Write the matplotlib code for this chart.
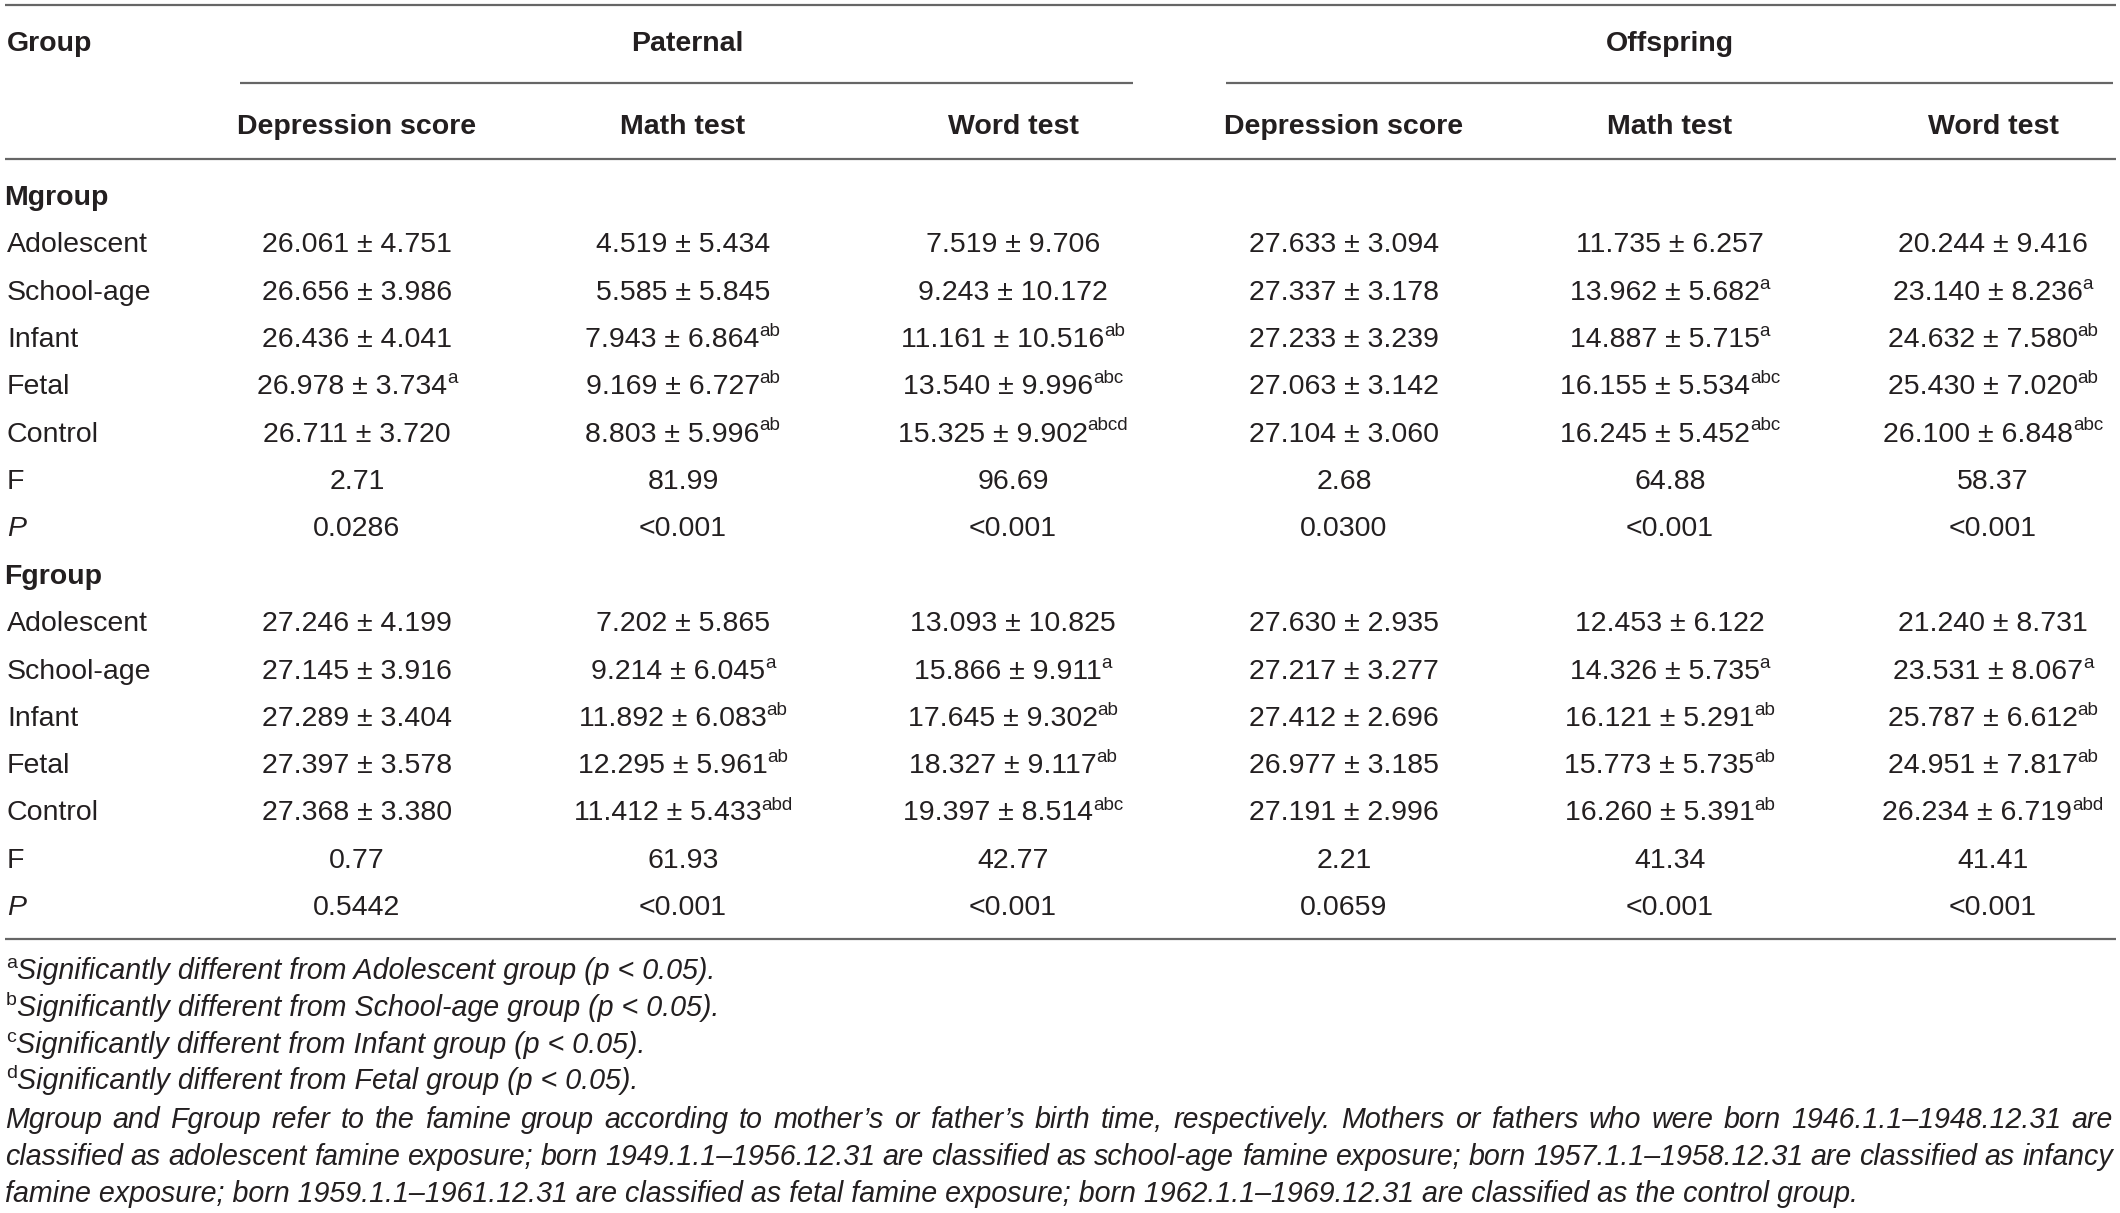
import matplotlib
matplotlib.use("Agg")
import matplotlib.pyplot as plt

# ---------------- data ----------------
row_labels = ["Adolescent", "School-age", "Infant", "Fetal", "Control"]
col_headers = ["Depression score", "Math test", "Word test",
               "Depression score", "Math test", "Word test"]
group_headers = ["Paternal", "Offspring"]

# Mgroup
m_pat_dep_mean = [26.061, 26.656, 26.436, 26.978, 26.711]
m_pat_dep_sd = [4.751, 3.986, 4.041, 3.734, 3.720]
m_pat_dep_sup = ["", "", "", "a", ""]
m_pat_math_mean = [4.519, 5.585, 7.943, 9.169, 8.803]
m_pat_math_sd = [5.434, 5.845, 6.864, 6.727, 5.996]
m_pat_math_sup = ["", "", "ab", "ab", "ab"]
m_pat_word_mean = [7.519, 9.243, 11.161, 13.540, 15.325]
m_pat_word_sd = [9.706, 10.172, 10.516, 9.996, 9.902]
m_pat_word_sup = ["", "", "ab", "abc", "abcd"]
m_off_dep_mean = [27.633, 27.337, 27.233, 27.063, 27.104]
m_off_dep_sd = [3.094, 3.178, 3.239, 3.142, 3.060]
m_off_dep_sup = ["", "", "", "", ""]
m_off_math_mean = [11.735, 13.962, 14.887, 16.155, 16.245]
m_off_math_sd = [6.257, 5.682, 5.715, 5.534, 5.452]
m_off_math_sup = ["", "a", "a", "abc", "abc"]
m_off_word_mean = [20.244, 23.140, 24.632, 25.430, 26.100]
m_off_word_sd = [9.416, 8.236, 7.580, 7.020, 6.848]
m_off_word_sup = ["", "a", "ab", "ab", "abc"]
m_F = ["2.71", "81.99", "96.69", "2.68", "64.88", "58.37"]
m_P = ["0.0286", "<0.001", "<0.001", "0.0300", "<0.001", "<0.001"]

# Fgroup
f_pat_dep_mean = [27.246, 27.145, 27.289, 27.397, 27.368]
f_pat_dep_sd = [4.199, 3.916, 3.404, 3.578, 3.380]
f_pat_dep_sup = ["", "", "", "", ""]
f_pat_math_mean = [7.202, 9.214, 11.892, 12.295, 11.412]
f_pat_math_sd = [5.865, 6.045, 6.083, 5.961, 5.433]
f_pat_math_sup = ["", "a", "ab", "ab", "abd"]
f_pat_word_mean = [13.093, 15.866, 17.645, 18.327, 19.397]
f_pat_word_sd = [10.825, 9.911, 9.302, 9.117, 8.514]
f_pat_word_sup = ["", "a", "ab", "ab", "abc"]
f_off_dep_mean = [27.630, 27.217, 27.412, 26.977, 27.191]
f_off_dep_sd = [2.935, 3.277, 2.696, 3.185, 2.996]
f_off_dep_sup = ["", "", "", "", ""]
f_off_math_mean = [12.453, 14.326, 16.121, 15.773, 16.260]
f_off_math_sd = [6.122, 5.735, 5.291, 5.735, 5.391]
f_off_math_sup = ["", "a", "ab", "ab", "ab"]
f_off_word_mean = [21.240, 23.531, 25.787, 24.951, 26.234]
f_off_word_sd = [8.731, 8.067, 6.612, 7.817, 6.719]
f_off_word_sup = ["", "a", "ab", "ab", "abd"]
f_F = ["0.77", "61.93", "42.77", "2.21", "41.34", "41.41"]
f_P = ["0.5442", "<0.001", "<0.001", "0.0659", "<0.001", "<0.001"]

footnotes = [("a", "Significantly different from Adolescent group (p < 0.05)."),
             ("b", "Significantly different from School-age group (p < 0.05)."),
             ("c", "Significantly different from Infant group (p < 0.05)."),
             ("d", "Significantly different from Fetal group (p < 0.05).")]
note_lines = [
    "Mgroup and Fgroup refer to the famine group according to mother\u2019s or father\u2019s birth time, respectively. Mothers or fathers who were born 1946.1.1\u20131948.12.31 are",
    "classified as adolescent famine exposure; born 1949.1.1\u20131956.12.31 are classified as school-age famine exposure; born 1957.1.1\u20131958.12.31 are classified as infancy",
    "famine exposure; born 1959.1.1\u20131961.12.31 are classified as fetal famine exposure; born 1962.1.1\u20131969.12.31 are classified as the control group.",
]

# ---------------- layout ----------------
W, H = 2120, 1213
FONT = ["Liberation Sans", "DejaVu Sans"]
TXT = "#231f20"
LINE = "#666666"
FS = 20.5
FS_SUP = 13.5
FS_NOTE = 20.6

fig = plt.figure(figsize=(W / 100, H / 100), dpi=100)
ax = fig.add_axes([0, 0, 1, 1])
ax.set_xlim(0, W)
ax.set_ylim(H, 0)
ax.axis("off")
renderer = fig.canvas.get_renderer()

col_x = [357, 683, 1013, 1344, 1670, 1993]
label_x = 7


def width_of(t):
    return t.get_window_extent(renderer).width


def cell(xc, y, main, sup="", fs=FS, **kw):
    t = ax.text(xc, y, main, fontsize=fs, family=FONT, color=TXT,
                ha="left", va="baseline", **kw)
    w1 = width_of(t)
    w2 = 0
    s = None
    if sup:
        s = ax.text(0, y - 11, sup, fontsize=FS_SUP, family=FONT, color=TXT,
                    ha="left", va="baseline")
        w2 = width_of(s)
    x0 = xc - (w1 + w2) / 2
    t.set_x(x0)
    if s is not None:
        s.set_x(x0 + w1)


# rules
ax.hlines(5, 5, 2116, color=LINE, lw=1.6)
ax.hlines(83, 240, 1133, color=LINE, lw=1.6)
ax.hlines(83, 1226, 2113, color=LINE, lw=1.6)
ax.hlines(159, 5, 2116, color=LINE, lw=1.6)
ax.hlines(939, 5, 2116, color=LINE, lw=1.6)

# headers
ax.text(label_x, 51, "Group", fontsize=FS, family=FONT, color=TXT,
        fontweight="bold", va="baseline")
ax.text(687, 51, group_headers[0], fontsize=FS, family=FONT, color=TXT,
        fontweight="bold", ha="center", va="baseline")
ax.text(1670, 51, group_headers[1], fontsize=FS, family=FONT, color=TXT,
        fontweight="bold", ha="center", va="baseline")
for xc, h in zip(col_x, col_headers):
    ax.text(xc, 134, h, fontsize=FS, family=FONT, color=TXT,
            fontweight="bold", ha="center", va="baseline")

blocks = [
    ("Mgroup", 205,
     [(m_pat_dep_mean, m_pat_dep_sd, m_pat_dep_sup),
      (m_pat_math_mean, m_pat_math_sd, m_pat_math_sup),
      (m_pat_word_mean, m_pat_word_sd, m_pat_word_sup),
      (m_off_dep_mean, m_off_dep_sd, m_off_dep_sup),
      (m_off_math_mean, m_off_math_sd, m_off_math_sup),
      (m_off_word_mean, m_off_word_sd, m_off_word_sup)],
     m_F, m_P),
    ("Fgroup", 584,
     [(f_pat_dep_mean, f_pat_dep_sd, f_pat_dep_sup),
      (f_pat_math_mean, f_pat_math_sd, f_pat_math_sup),
      (f_pat_word_mean, f_pat_word_sd, f_pat_word_sup),
      (f_off_dep_mean, f_off_dep_sd, f_off_dep_sup),
      (f_off_math_mean, f_off_math_sd, f_off_math_sup),
      (f_off_word_mean, f_off_word_sd, f_off_word_sup)],
     f_F, f_P),
]

STEP = 47.3
for title, y0, cols, Fv, Pv in blocks:
    ax.text(label_x - 3, y0, title, fontsize=FS, family=FONT, color=TXT,
            fontweight="bold", va="baseline")
    for i, lab in enumerate(row_labels):
        y = y0 + STEP * (i + 1)
        ax.text(label_x, y, lab, fontsize=FS, family=FONT, color=TXT,
                va="baseline")
        for xc, (mean, sd, sup) in zip(col_x, cols):
            cell(xc, y, f"{mean[i]:.3f} \u00b1 {sd[i]:.3f}", sup[i])
    yF = y0 + STEP * 6
    yP = y0 + STEP * 7
    ax.text(label_x, yF, "F", fontsize=FS, family=FONT, color=TXT, va="baseline")
    ax.text(label_x, yP, "P", fontsize=FS, family=FONT, color=TXT,
            va="baseline", style="italic")
    for xc, fv, pv in zip(col_x, Fv, Pv):
        cell(xc, yF, fv)
        cell(xc, yP, pv)

# footnotes
fy = [979, 1016, 1053, 1089]
for (letter, text), y in zip(footnotes, fy):
    s = ax.text(6, y - 11, letter, fontsize=14, family=FONT, color=TXT,
                va="baseline")
    ax.text(6 + width_of(s), y, text, fontsize=FS_NOTE, family=FONT,
            color=TXT, style="italic", va="baseline")

ny = [1128, 1165, 1202]
left, right = 5, 2113
for k, (line, y) in enumerate(zip(note_lines, ny)):
    if k < len(note_lines) - 1:
        words = line.split(" ")
        objs = [ax.text(0, y, w, fontsize=FS_NOTE, family=FONT, color=TXT,
                        style="italic", va="baseline") for w in words]
        ws = [width_of(o) for o in objs]
        gap = (right - left - sum(ws)) / (len(words) - 1)
        x = left
        for o, w in zip(objs, ws):
            o.set_x(x)
            x += w + gap
    else:
        ax.text(left, y, line, fontsize=FS_NOTE, family=FONT, color=TXT,
                style="italic", va="baseline")

fig.savefig("out.png", dpi=100)
